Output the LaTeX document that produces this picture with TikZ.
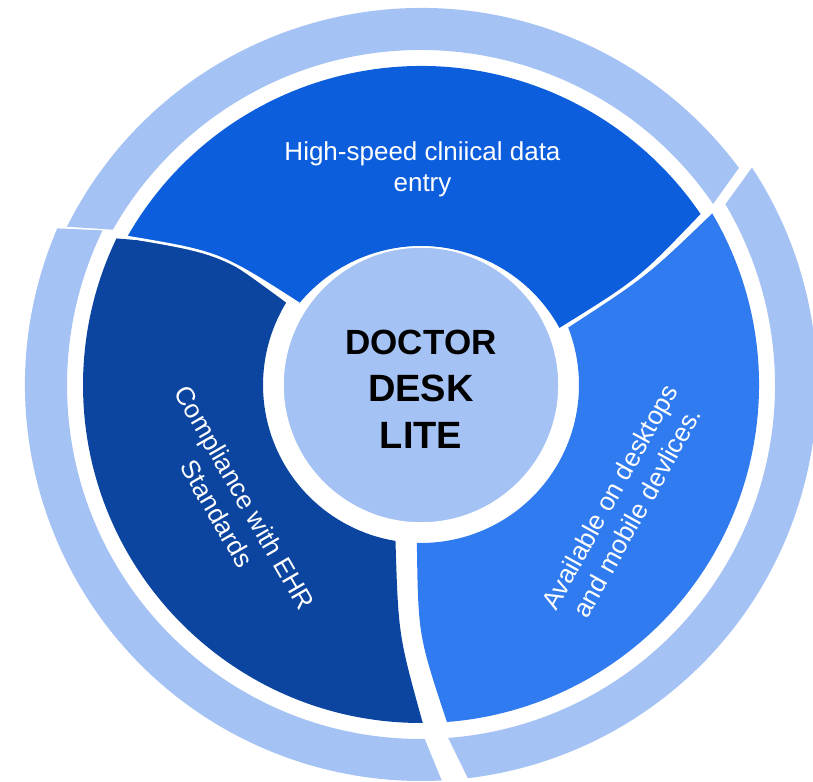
\documentclass[tikz,border=0pt]{standalone}
\usepackage{fontspec}
\setmainfont{Liberation Sans}
\definecolor{ringlight}{HTML}{A4C2F4}
\definecolor{segtopc}{HTML}{0D5EDD}
\definecolor{segleftc}{HTML}{0B45A0}
\definecolor{segrightc}{HTML}{317BF0}

\begin{document}
\begin{tikzpicture}
[
  x=1pt, y=1pt,
  outer/.style={fill=ringlight},
  topseg/.style={fill=segtopc},
  leftseg/.style={fill=segleftc},
  rightseg/.style={fill=segrightc},
  gap/.style={draw=white,line width=2.6pt},
  hub/.style={circle,fill=ringlight,draw=white,line width=1.5pt,minimum size=276pt,inner sep=0pt},
  title/.style={align=center,inner sep=0pt,font=\fontsize{35}{47}\selectfont\bfseries},
  lbl/.style={text=white,align=center,font=\fontsize{26}{31.7}\selectfont}
]
\useasboundingbox (0,0) rectangle (813,781);

\coordinate (c) at (421,396);
\coordinate (ct) at (421,377);

% outer ring
\fill[outer] ([shift={(153.4:396)}]ct) arc[start angle=153.4, end angle=36.6, radius=396]
  -- ([shift={(34.4:354)}]ct) arc[start angle=34.4, end angle=150.5, radius=354] -- cycle;
\fill[outer] ([shift={(156.7:396)}]c) arc[start angle=156.7, end angle=273, radius=396]
  -- ([shift={(270.6:354)}]c) arc[start angle=270.6, end angle=154.1, radius=354] -- cycle;
\fill[outer] ([shift={(33.3:396)}]c) arc[start angle=33.3, end angle=-83.2, radius=396]
  -- ([shift={(-85.6:354)}]c) arc[start angle=-85.6, end angle=30.7, radius=354] -- cycle;

% segments
\fill[leftseg] ([shift={(270.3:338)}]c) arc[start angle=270.3, end angle=154.3, radius=338]
  .. controls (209.6,535) .. ([shift={(148.6:158)}]c)
  arc[start angle=148.6, end angle=260.7, radius=158]
  .. controls (398.4,145.9) .. ([shift={(270.3:338)}]c) -- cycle;
\fill[rightseg] ([shift={(30.5:338)}]c) arc[start angle=30.5, end angle=-85.6, radius=338]
  .. controls (418.2,145.7) .. ([shift={(-91.5:158)}]c)
  arc[start angle=-91.5, end angle=21.3, radius=158]
  .. controls (646.9,504.7) .. ([shift={(30.5:338)}]c) -- cycle;
\fill[topseg] ([shift={(150.4:338)}]ct) arc[start angle=150.4, end angle=34.2, radius=338]
  .. controls (638.2,502) .. ([shift={(28.8:158)}]ct)
  arc[start angle=28.8, end angle=140.6, radius=158]
  .. controls (219.2,528.4) .. ([shift={(150.4:338)}]ct) -- cycle;
\draw[gap] ([shift={(150.4:338)}]ct) .. controls (219.2,528.4) .. ([shift={(140.6:158)}]ct);

% hub
\node[hub] (hub) at (c) {};
\node[title] (name) at (421,392) {DOCTOR\\{\fontsize{38}{47}\selectfont DESK}\\{\fontsize{38}{47}\selectfont LITE}};

% labels
\node[lbl] (entry) at (422.5,611.8) {High-speed clniical data\\entry};
\node[lbl,rotate=-60] (ehr) at (231,275.5) {Compliance with EHR\\Standards};
\node[lbl,rotate=61] (devices) at (623,276.4) {Available on desktops\\and mobile devlices.};

\end{tikzpicture}
\end{document}
